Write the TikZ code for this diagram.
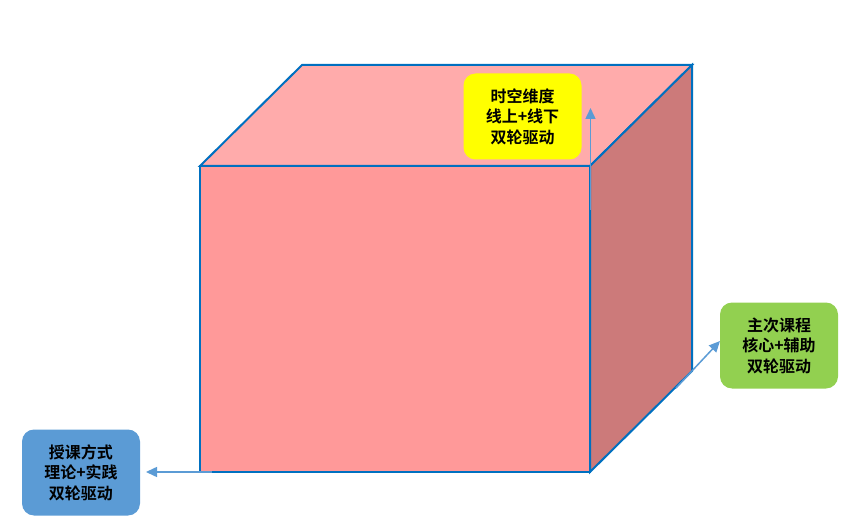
\documentclass[tikz,border=0pt]{standalone}
\usepackage{fontspec}
\newfontfamily\cjk{Noto Sans CJK SC}[BoldFont={Noto Sans CJK SC Bold}]
\usetikzlibrary{arrows.meta}
\definecolor{topc}{RGB}{255,171,171}
\definecolor{frontc}{RGB}{255,153,153}
\definecolor{sidec}{RGB}{204,122,122}
\definecolor{edgec}{RGB}{0,112,192}
\definecolor{arrc}{RGB}{91,155,213}
\definecolor{yel}{RGB}{255,255,0}
\definecolor{grn}{RGB}{146,208,80}
\definecolor{blu}{RGB}{91,155,213}
\tikzset{
  face/.style={draw=edgec, line width=2pt, line join=miter},
  lbl/.style={rounded corners=12pt, minimum width=118pt, minimum height=86pt, inner sep=0pt,
    align=center, font=\cjk\bfseries\fontsize{16}{20.5}\selectfont, text=black},
  arr/.style={draw=arrc, line width=1.5pt, -{Triangle[length=11pt,width=10pt]}}
}
\begin{document}
\begin{tikzpicture}[x=1pt,y=-1pt]
\useasboundingbox (0,0) rectangle (863,532);
\coordinate (A) at (200,166);
\coordinate (B) at (590,166);
\coordinate (C) at (590,472);
\coordinate (D) at (200,472);
\coordinate (E) at (302,65);
\coordinate (F) at (692,65);
\coordinate (G) at (692,371);
\path[face, fill=topc] (A) -- (E) -- (F) -- (B) -- cycle;
\path[face, fill=sidec] (B) -- (F) -- (G) -- (C) -- cycle;
\path[face, fill=frontc] (A) -- (B) -- (C) -- (D) -- cycle;
\node[lbl, fill=yel] (t) at (522.5,116.5) {时空维度\\线上+线下\\双轮驱动};
\node[lbl, fill=grn] (r) at (779,345.5) {主次课程\\核心+辅助\\双轮驱动};
\node[lbl, fill=blu] (l) at (81,472.5) {授课方式\\理论+实践\\双轮驱动};
\coordinate (s1) at (590.5,210);
\coordinate (e1) at (590.5,108);
\coordinate (s2) at (676,388);
\coordinate (e2) at (720,341);
\coordinate (s3) at (212,472);
\coordinate (e3) at (146,472);
\draw[arr] (s1) -- (e1);
\draw[arr] (s2) -- (e2);
\draw[arr] (s3) -- (e3);
\end{tikzpicture}
\end{document}
